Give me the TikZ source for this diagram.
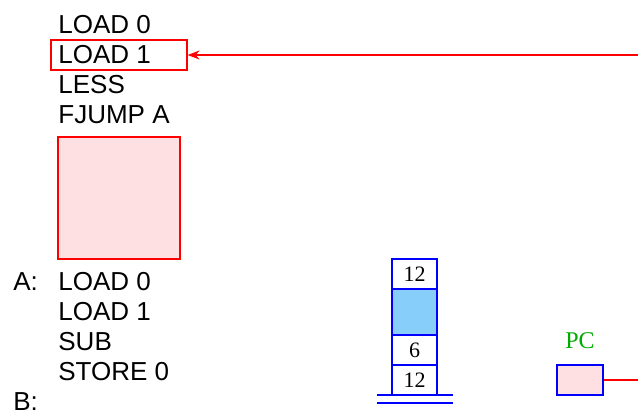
\documentclass[tikz,border=0pt]{standalone}
\usepackage{fontspec}
\setmainfont{Liberation Serif}
\setsansfont{Liberation Sans}
\usetikzlibrary{positioning,arrows.meta}
\definecolor{codefill}{RGB}{255,224,226}
\definecolor{stackfill}{RGB}{135,206,250}
\definecolor{pcgreen}{RGB}{0,170,0}

\begin{document}
\begin{tikzpicture}[
  x=0.5pt, y=-0.5pt, >={Stealth[length=6pt,width=4.5pt]},
  instr/.style={anchor=base west,inner sep=0pt,font=\sffamily\fontsize{13}{15}\selectfont},
  codebox/.style={draw=red,line width=0.6pt,fill=codefill,minimum width=61pt,minimum height=61pt,inner sep=0pt},
  curbox/.style={draw=red,line width=0.6pt,minimum width=68pt,minimum height=15pt,inner sep=0pt},
  cell/.style={draw=blue,line width=0.7pt,minimum width=22.5pt,minimum height=15pt,inner sep=0pt,outer sep=0pt,font=\fontsize{11}{13}\selectfont},
  reg/.style={draw=blue,line width=0.7pt,fill=codefill,minimum width=23pt,minimum height=15pt,inner sep=0pt}
]
\useasboundingbox (0,0) rectangle (638,414);
\clip (0,0) rectangle (638,414);
\node[instr] (t1) at (58,33) {LOAD 0};
\node[instr] (t2) at (58,63) {LOAD 1};
\node[instr] (t3) at (58,93) {LESS};
\node[instr] (t4) at (58,123) {FJUMP A};
\node[curbox] (cur) at (119,55) {};
\node[codebox] (blk) at (119,198) {};
\node[instr] (la) at (13,290) {A:};
\node[instr] (b1) at (58,290) {LOAD 0};
\node[instr] (b2) at (58,320) {LOAD 1};
\node[instr] (b3) at (58,350) {SUB};
\node[instr] (b4) at (58,380) {STORE 0};
\node[instr] (lb) at (13,410) {B:};
\node[cell] (s1) at (414.5,274) {12};
\node[cell,fill=stackfill,minimum height=23pt,below=0pt of s1] (s2) {};
\node[cell,below=0pt of s2] (s3) {6};
\node[cell,below=0pt of s3] (s4) {12};
\draw[blue,line width=0.7pt] ([xshift=-19pt]s4.south) -- ([xshift=19pt]s4.south);
\draw[blue,line width=0.7pt] ([xshift=-19pt,yshift=-4pt]s4.south) -- ([xshift=19pt,yshift=-4pt]s4.south);
\node[reg] (pc) at (580,380) {};
\node[font=\fontsize{12}{14}\selectfont,text=pcgreen,inner sep=0pt,above=7.5pt of pc] (pclbl) {PC};
\draw[red,line width=0.6pt,->] (pc.east) -- ++(80,0) |- (cur.east);
\end{tikzpicture}
\end{document}
